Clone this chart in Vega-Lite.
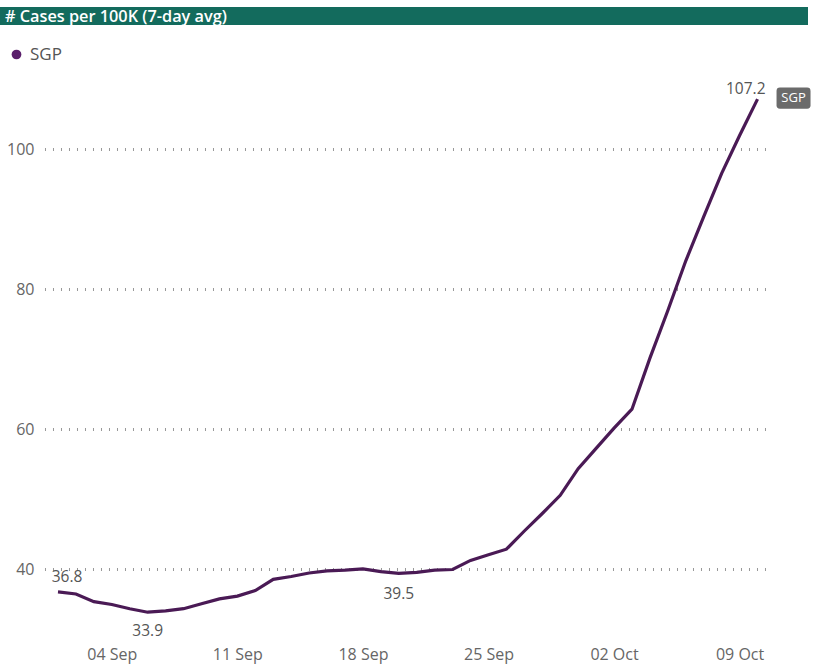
{
  "$schema": "https://vega.github.io/schema/vega-lite/v6.json",
  "background": "white",
  "padding": {"left": 0, "top": 7, "right": 0, "bottom": 6},
  "config": {"view": {"stroke": null}, "font": "Open Sans"},
  "spacing": 21,
  "resolve": {"legend": {"color": "independent"}},
  "datasets": {
    "series": [
      {"date": "2021-09-01T00:00:00", "value": 36.8, "country": "SGP"},
      {"date": "2021-09-02T00:00:00", "value": 36.5, "country": "SGP"},
      {"date": "2021-09-03T00:00:00", "value": 35.4, "country": "SGP"},
      {"date": "2021-09-04T00:00:00", "value": 35.0, "country": "SGP"},
      {"date": "2021-09-05T00:00:00", "value": 34.4, "country": "SGP"},
      {"date": "2021-09-06T00:00:00", "value": 33.9, "country": "SGP"},
      {"date": "2021-09-07T00:00:00", "value": 34.1, "country": "SGP"},
      {"date": "2021-09-08T00:00:00", "value": 34.4, "country": "SGP"},
      {"date": "2021-09-09T00:00:00", "value": 35.1, "country": "SGP"},
      {"date": "2021-09-10T00:00:00", "value": 35.8, "country": "SGP"},
      {"date": "2021-09-11T00:00:00", "value": 36.2, "country": "SGP"},
      {"date": "2021-09-12T00:00:00", "value": 37.0, "country": "SGP"},
      {"date": "2021-09-13T00:00:00", "value": 38.6, "country": "SGP"},
      {"date": "2021-09-14T00:00:00", "value": 39.0, "country": "SGP"},
      {"date": "2021-09-15T00:00:00", "value": 39.5, "country": "SGP"},
      {"date": "2021-09-16T00:00:00", "value": 39.8, "country": "SGP"},
      {"date": "2021-09-17T00:00:00", "value": 39.9, "country": "SGP"},
      {"date": "2021-09-18T00:00:00", "value": 40.1, "country": "SGP"},
      {"date": "2021-09-19T00:00:00", "value": 39.7, "country": "SGP"},
      {"date": "2021-09-20T00:00:00", "value": 39.45, "country": "SGP"},
      {"date": "2021-09-21T00:00:00", "value": 39.6, "country": "SGP"},
      {"date": "2021-09-22T00:00:00", "value": 39.9, "country": "SGP"},
      {"date": "2021-09-23T00:00:00", "value": 40.0, "country": "SGP"},
      {"date": "2021-09-24T00:00:00", "value": 41.3, "country": "SGP"},
      {"date": "2021-09-25T00:00:00", "value": 42.1, "country": "SGP"},
      {"date": "2021-09-26T00:00:00", "value": 42.9, "country": "SGP"},
      {"date": "2021-09-27T00:00:00", "value": 45.5, "country": "SGP"},
      {"date": "2021-09-28T00:00:00", "value": 48.0, "country": "SGP"},
      {"date": "2021-09-29T00:00:00", "value": 50.6, "country": "SGP"},
      {"date": "2021-09-30T00:00:00", "value": 54.4, "country": "SGP"},
      {"date": "2021-10-01T00:00:00", "value": 57.3, "country": "SGP"},
      {"date": "2021-10-02T00:00:00", "value": 60.2, "country": "SGP"},
      {"date": "2021-10-03T00:00:00", "value": 62.9, "country": "SGP"},
      {"date": "2021-10-04T00:00:00", "value": 70.2, "country": "SGP"},
      {"date": "2021-10-05T00:00:00", "value": 77.0, "country": "SGP"},
      {"date": "2021-10-06T00:00:00", "value": 84.1, "country": "SGP"},
      {"date": "2021-10-07T00:00:00", "value": 90.4, "country": "SGP"},
      {"date": "2021-10-08T00:00:00", "value": 96.6, "country": "SGP"},
      {"date": "2021-10-09T00:00:00", "value": 102.0, "country": "SGP"},
      {"date": "2021-10-10T00:00:00", "value": 107.2, "country": "SGP"}
    ],
    "gridlines": [{"value": 40}, {"value": 60}, {"value": 80}, {"value": 100}]
  },
  "vconcat": [
    {
      "width": 808,
      "height": 18,
      "data": {"values": [{"t": "# Cases per 100K (7-day avg)"}]},
      "layer": [
        {"mark": {"type": "rect", "color": "#136b5d"}, "encoding": {}},
        {
          "mark": {"type": "text", "x": 5, "y": 9.5, "align": "left", "baseline": "middle", "color": "white", "font": "Open Sans", "fontWeight": 600, "fontSize": 16.3},
          "encoding": {"text": {"field": "t"}}
        }
      ]
    },
    {
      "width": 768,
      "height": 560,
      "layer": [
        {
          "data": {"name": "gridlines"},
          "mark": {"type": "rule", "color": "#999999", "strokeWidth": 3, "strokeDash": [1, 7]},
          "encoding": {
            "y": {"field": "value", "type": "quantitative"},
            "x": {"datum": {"year": 2021, "month": 8, "date": 31, "hours": 6, "minutes": 36}, "type": "temporal"},
            "x2": {"datum": {"year": 2021, "month": 10, "date": 10, "hours": 14}}
          }
        },
        {
          "data": {"name": "series"},
          "encoding": {
            "x": {
              "field": "date", "type": "temporal",
              "scale": {"domain": [{"year": 2021, "month": 8, "date": 28, "hours": 18, "minutes": 24}, {"year": 2021, "month": 10, "date": 10, "hours": 14}]},
              "axis": {
                "title": null, "format": "%d %b", "grid": false, "domain": false, "ticks": false,
                "labelPadding": 10, "labelFontSize": 16, "labelColor": "#666666", "labelFont": "Open Sans",
                "values": [
                  {"year": 2021, "month": 9, "date": 4}, {"year": 2021, "month": 9, "date": 11},
                  {"year": 2021, "month": 9, "date": 18}, {"year": 2021, "month": 9, "date": 25},
                  {"year": 2021, "month": 10, "date": 2}, {"year": 2021, "month": 10, "date": 9}
                ]
              }
            },
            "y": {
              "field": "value", "type": "quantitative",
              "scale": {"domain": [30.5, 110.5], "nice": false, "zero": false},
              "axis": {
                "title": null, "offset": -45,
                "values": [40, 60, 80, 100], "domain": false, "ticks": false, "grid": false,
                "labelPadding": 11, "labelFontSize": 16, "labelColor": "#666666"
              }
            }
          },
          "layer": [
            {
              "mark": {"type": "line", "strokeWidth": 3.2},
              "encoding": {
                "color": {
                  "field": "country", "type": "nominal",
                  "scale": {"range": ["#4a1a55"]},
                  "legend": {
                    "title": null, "orient": "none", "legendX": 8, "legendY": -30,
                    "symbolType": "circle", "symbolSize": 95, "symbolStrokeWidth": 0,
                    "labelFontSize": 17, "labelColor": "#555555", "labelOffset": 5, "padding": 0,
                    "encode": {"symbols": {"update": {"fill": {"value": "#5a1f6b"}, "strokeWidth": {"value": 0}}}}
                  }
                }
              }
            },
            {
              "transform": [{"filter": "datum.value == 36.8"}],
              "mark": {"type": "text", "dx": 9, "dy": -15, "fontSize": 15.5, "color": "#555555"},
              "encoding": {"text": {"field": "value", "format": ".1f"}}
            },
            {
              "transform": [{"filter": "datum.value == 33.9"}],
              "mark": {"type": "text", "dy": 19, "fontSize": 15.5, "color": "#555555"},
              "encoding": {"text": {"field": "value", "format": ".1f"}}
            },
            {
              "transform": [{"filter": "datum.value == 39.45"}],
              "mark": {"type": "text", "dy": 21, "fontSize": 15.5, "color": "#555555"},
              "encoding": {"text": {"field": "value", "format": ".1f"}}
            },
            {
              "transform": [{"filter": "datum.value == 107.2"}],
              "mark": {"type": "text", "align": "right", "dx": 8, "dy": -10, "fontSize": 15.5, "color": "#555555"},
              "encoding": {"text": {"field": "value", "format": ".1f"}}
            },
            {
              "transform": [{"filter": "datum.value == 107.2"}],
              "mark": {"type": "point", "filled": true, "opacity": 1, "color": "#6b6b6b", "size": 1156, "xOffset": 36, "yOffset": -1,
                "shape": "M-0.8,-0.62 L0.8,-0.62 Q1,-0.62 1,-0.42 L1,0.42 Q1,0.62 0.8,0.62 L-0.8,0.62 Q-1,0.62 -1,0.42 L-1,-0.42 Q-1,-0.62 -0.8,-0.62 Z"},
              "encoding": {}
            },
            {
              "transform": [{"filter": "datum.value == 107.2"}],
              "mark": {"type": "text", "xOffset": 36, "yOffset": -1, "fontSize": 13, "color": "white", "baseline": "middle"},
              "encoding": {"text": {"field": "country"}}
            }
          ]
        }
      ]
    }
  ]
}
